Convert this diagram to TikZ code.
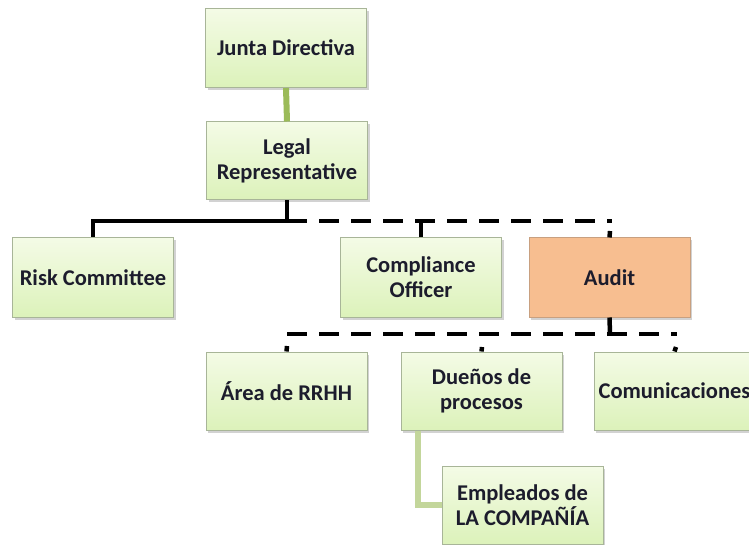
\documentclass[tikz,border=0pt]{standalone}
\usepackage{fontspec}
\setmainfont{Carlito}
\usetikzlibrary{shadows}
\definecolor{boxtop}{HTML}{F4FBE6}
\definecolor{boxbot}{HTML}{DCF2BA}
\definecolor{boxline}{HTML}{A8B598}
\definecolor{audfill}{HTML}{F7BE90}
\definecolor{audline}{HTML}{C8A080}
\definecolor{txt}{HTML}{1C1C2C}
\definecolor{greenlink}{HTML}{9BBB59}
\definecolor{palelink}{HTML}{C3D69B}
\tikzset{
  orgbox/.style={draw=boxline, line width=1pt, top color=boxtop, bottom color=boxbot,
    minimum width=161pt, minimum height=79pt, align=center, inner sep=1pt,
    font=\fontsize{22.5}{25}\selectfont\bfseries, text=txt,
    drop shadow={opacity=0.35, shadow xshift=2pt, shadow yshift=-2.5pt}},
  auditbox/.style={orgbox, top color=audfill, bottom color=audfill, draw=audline},
  solidlink/.style={line width=4.5pt, black},
  dashlink/.style={line width=4.5pt, black, dash pattern=on 20pt off 12pt},
  greenconn/.style={line width=6pt, greenlink},
  paleconn/.style={line width=6.5pt, palelink}
}
\begin{document}
\begin{tikzpicture}[x=1pt,y=-1pt]
\clip (0,0) rectangle (749,545);
\fill[white] (0,0) rectangle (749,545);
% nodes
\node[orgbox] (junta) at (286,48) {Junta Directiva};
\node[orgbox, minimum height=78pt] (legal) at (287,161) {Legal\\Representative};
\node[orgbox] (risk) at (93,277.5) {Risk Committee};
\node[orgbox] (comp) at (421,277.5) {Compliance\\Officer};
\node[auditbox] (audit) at (609.5,277.5) {Audit};
\node[orgbox, minimum height=78pt] (area) at (286.5,391) {Área de RRHH};
\node[orgbox, minimum height=78pt] (duen) at (481.5,391) {Dueños de\\procesos};
\node[orgbox, minimum height=78pt] (comu) at (674.5,391) {Comunicaciones};
\node[orgbox, minimum height=78pt] (emp) at (522.5,505) {Empleados de\\LA COMPAÑÍA};
% junction coordinates
\coordinate (j1) at (287,221);
\coordinate (j1r) at (612,221);
\coordinate (j2) at (610,334);
\coordinate (j2l) at (287,334);
\coordinate (j2r) at (677,334);
% connectors
\draw[greenconn] (junta.south) -- (legal.north);
\draw[solidlink] (legal.south) -- (j1) -| (risk.north);
\draw[dashlink] (j1) -- (j1r);
\draw[dashlink] (421,221) -- (comp.north);
\draw[line width=4.5pt] (610,231) -- (audit.north);
\draw[solidlink] (audit.south) -- (j2);
\draw[dashlink] (j2l) -- (j2r);
\draw[line width=4.5pt] (287,346) -- (area.north);
\draw[line width=4.5pt] (482,347) -- (duen.north);
\draw[line width=4.5pt] (676,347) -- (comu.north);
\draw[paleconn] ([xshift=-63.5pt]duen.south) |- (emp.west);
\end{tikzpicture}
\end{document}
